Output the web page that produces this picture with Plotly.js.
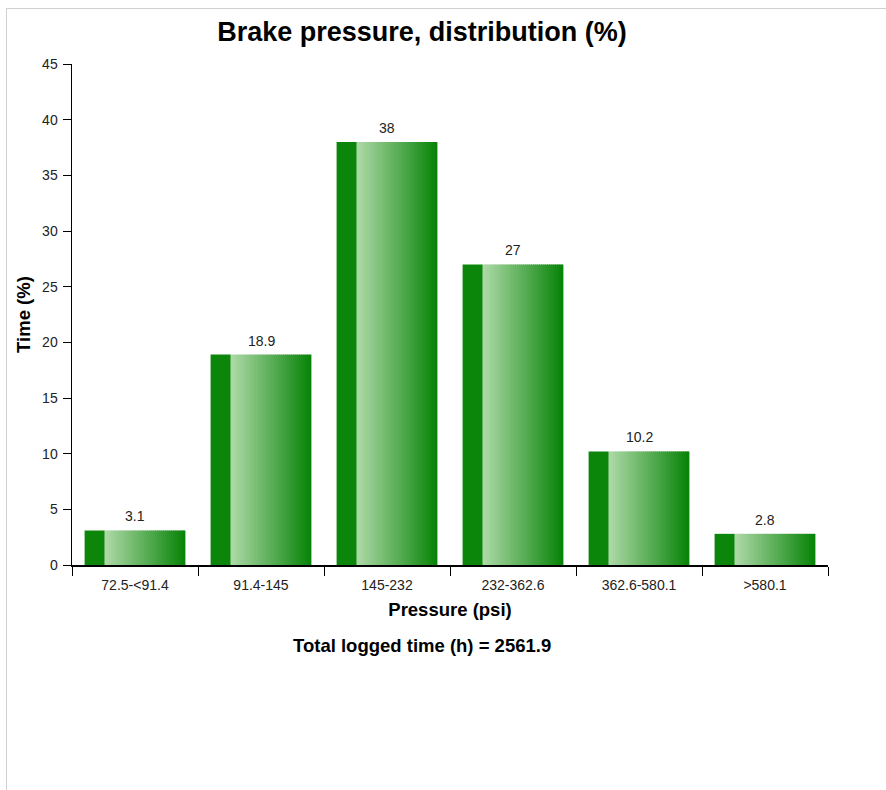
<!DOCTYPE html>
<html>
<head>
<meta charset="utf-8">
<script src="https://cdn.plot.ly/plotly-3.0.1.min.js"></script>
<style>
  html, body { margin: 0; padding: 0; background: #fff; }
  #wrap { position: relative; width: 886px; height: 790px; }
  #chart { position: absolute; left: 0; top: 0; width: 886px; height: 790px; }
  #frame { position: absolute; left: 6px; top: 8px; right: 0; bottom: 0;
           border-top: 1px solid #d0d0d0; border-left: 1px solid #d0d0d0; pointer-events: none; }
</style>
</head>
<body>
<div id="wrap">
  <div id="chart"></div>
  <div id="frame"></div>
</div>
<script>
const categories = ["72.5-<91.4", "91.4-145", "145-232", "232-362.6", "362.6-580.1", ">580.1"];
const timePercent = [3.1, 18.9, 38, 27, 10.2, 2.8];
const labels = ["3.1", "18.9", "38", "27", "10.2", "2.8"];
const totalLoggedHours = 2561.9;

const BAR_W = 0.8, STRIP_W = 0.16;
const dark = [11, 134, 11], light = [172, 217, 166], endCol = [8, 132, 8];
const traces = [];
traces.push({
  type: 'bar', x: categories, y: timePercent, width: STRIP_W, offset: -BAR_W / 2,
  marker: { color: 'rgb(' + dark.join(',') + ')', line: { width: 0 } },
  hoverinfo: 'skip', showlegend: false
});
const N = 40, gw = (BAR_W - STRIP_W) / N;
for (let i = 0; i < N; i++) {
  const t = i / (N - 1);
  const c = light.map((v, k) => Math.round(v + (endCol[k] - v) * t));
  traces.push({
    type: 'bar', x: categories, y: timePercent,
    width: gw * (i === N - 1 ? 1 : 1.4), offset: -BAR_W / 2 + STRIP_W + i * gw,
    marker: { color: 'rgb(' + c.join(',') + ')', line: { width: 0 } },
    hoverinfo: 'skip', showlegend: false
  });
}

const valueLabels = categories.map((c, i) => ({
  x: c, y: timePercent[i], xref: 'x', yref: 'y', text: labels[i],
  showarrow: false, xanchor: 'center', yanchor: 'bottom', yshift: 4,
  font: { size: 14, color: '#222' }
}));

const layout = {
  width: 886, height: 790,
  margin: { l: 72, r: 58, t: 64, b: 225 },
  paper_bgcolor: 'rgba(0,0,0,0)', plot_bgcolor: '#fff',
  barmode: 'overlay', bargap: 0.2,
  font: { family: 'Liberation Sans, Arial, sans-serif', color: '#222' },
  title: { text: 'Brake pressure, distribution (%)', x: 422 / 886, xanchor: 'center',
           y: 1 - 32 / 790, yanchor: 'middle',
           font: { size: 27, color: '#000', weight: 'bold' } },
  xaxis: {
    type: 'category', range: [-0.5, 5.5], tickson: 'boundaries',
    ticks: 'outside', ticklen: 9, tickwidth: 1, tickcolor: '#000',
    ticklabelstandoff: 6,
    showline: true, linecolor: '#000', linewidth: 2, showgrid: false, zeroline: false,
    tickfont: { size: 14, color: '#222' },
    title: { text: 'Pressure (psi)', standoff: 11, font: { size: 18.5, color: '#000', weight: 'bold' } },
    fixedrange: true
  },
  yaxis: {
    range: [0, 45], dtick: 5, ticks: 'outside', ticklen: 8, tickwidth: 1, tickcolor: '#000',
    ticklabelstandoff: 2,
    showline: true, linecolor: '#000', linewidth: 1.5, showgrid: false, zeroline: false,
    tickfont: { size: 14, color: '#222' },
    title: { text: 'Time (%)', standoff: 6, font: { size: 18.5, color: '#000', weight: 'bold' } },
    fixedrange: true
  },
  annotations: valueLabels.concat([{
    text: '<b>Total logged time (h) = ' + totalLoggedHours + '</b>',
    xref: 'paper', yref: 'paper', x: (422 - 72) / 756, y: -80 / 501,
    xanchor: 'center', yanchor: 'middle', showarrow: false,
    font: { size: 18.5, color: '#000' }
  }]),
  hovermode: false
};
Plotly.newPlot('chart', traces, layout, { displayModeBar: false, staticPlot: true });
</script>
</body>
</html>
